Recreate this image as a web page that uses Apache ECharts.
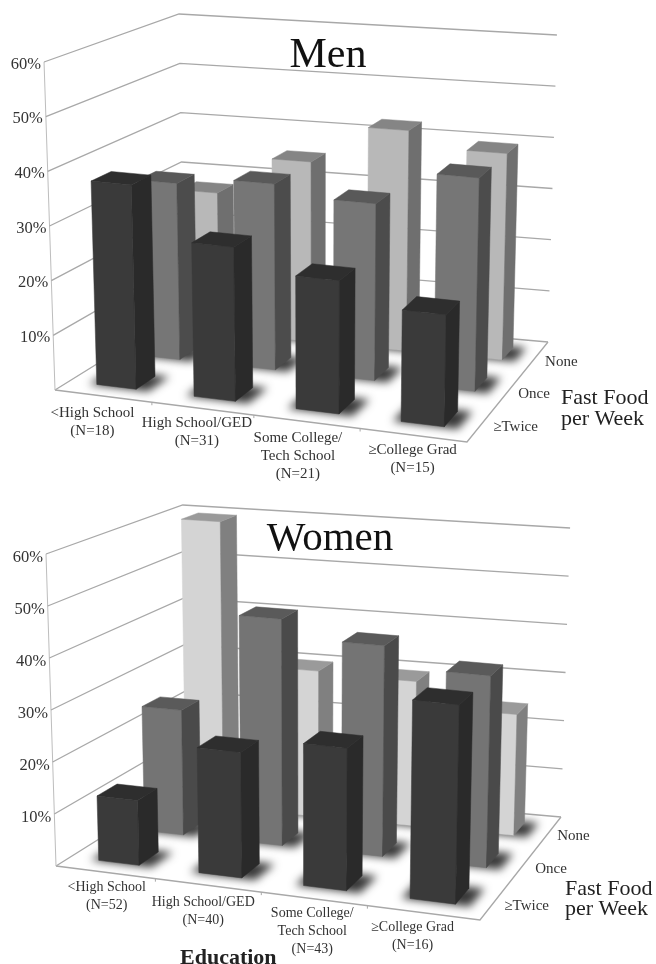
<!DOCTYPE html>
<html>
<head>
<meta charset="utf-8">
<style>html,body{margin:0;padding:0;background:#fff}#chart{width:656px;height:964px}</style>
<script src="https://cdn.jsdelivr.net/npm/echarts@6/dist/echarts.min.js"></script>
</head>
<body>
<div id="chart"></div>
<script>
// Share of respondents (%) by education and weekly fast-food frequency.
const menCategories = ['<High School\n(N=18)', 'High School/GED\n(N=31)', 'Some College/\nTech School\n(N=21)', '≥College Grad\n(N=15)'];
const womenCategories = ['<High School\n(N=52)', 'High School/GED\n(N=40)', 'Some College/\nTech School\n(N=43)', '≥College Grad\n(N=16)'];
const frequencyLevels = ['≥Twice', 'Once', 'None'];
const tickValues = [0, 10, 20, 30, 40, 50, 60];
const menTwice = [37.5, 28, 24, 20];
const menOnce = [33.5, 35, 33, 39.5];
const menNone = [27.5, 35, 42.5, 39.5];
const womenTwice = [12.5, 24, 27, 37.5];
const womenOnce = [25, 45, 41.5, 37.5];
const womenNone = [59.5, 30, 29.5, 24.5];

// Unit square -> quadrilateral projective map (used for the floor and ceiling planes).
function squareToQuad(p) {
  const [p0, p1, p2, p3] = p;
  const dx1 = p1[0] - p2[0], dx2 = p3[0] - p2[0], dx3 = p0[0] - p1[0] + p2[0] - p3[0];
  const dy1 = p1[1] - p2[1], dy2 = p3[1] - p2[1], dy3 = p0[1] - p1[1] + p2[1] - p3[1];
  const den = dx1 * dy2 - dx2 * dy1;
  const g = (dx3 * dy2 - dx2 * dy3) / den, h = (dx1 * dy3 - dx3 * dy1) / den;
  const a = p1[0] - p0[0] + g * p1[0], b = p3[0] - p0[0] + h * p3[0];
  const d = p1[1] - p0[1] + g * p1[1], e = p3[1] - p0[1] + h * p3[1];
  return (u, w) => {
    const q = g * u + h * w + 1;
    return [(a * u + b * w + p0[0]) / q, (d * u + e * w + p0[1]) / q];
  };
}

// Scene layout for each panel: floor and 60% plane corners (FL, FR, BR, BL),
// the point vertical edges converge on, and the spacing of the education cells.
const panels = [
  {
    name: 'Men', categories: menCategories,
    floor: squareToQuad([[55, 390], [467, 442], [548, 342], [184, 310]]),
    top: squareToQuad([[44, 62], [473.5, 102], [557, 35], [176, 14]]),
    nadir: [318, 8255],
    grid: { left: 55, top: 62, width: 412, height: 328 },
    cellEdges: [0, 0.265, 0.5225, 0.77, 1],
    tickDy: 2.5,
    catFont: 15,
    catOffset: [[-10, 26], [-5, 24], [-8, 34], [0, 24]],
    freqOffset: [[33, 4], [23, 6], [25, 6]],
    rows: [menTwice, menOnce, menNone],
    faces: [
      ['#3a3a3a', '#2a2a2a', '#2e2e2e'],
      ['#767676', '#4c4c4c', '#595959'],
      ['#b8b8b8', '#6f6f6f', '#858585']
    ]
  },
  {
    name: 'Women', categories: womenCategories,
    floor: squareToQuad([[56, 866], [480, 920], [561, 817], [187, 784]]),
    top: squareToQuad([[46, 554], [487, 597], [570, 528], [182, 505]]),
    nadir: [310, 8800],
    grid: { left: 56, top: 554, width: 424, height: 312 },
    cellEdges: [0, 0.265, 0.525, 0.765, 1],
    tickDy: 4,
    catFont: 14,
    catOffset: [[2, 24], [-4, 26], [-1, 33], [-10, 24]],
    freqOffset: [[31, 6], [27, 5], [24, 4]],
    rows: [womenTwice, womenOnce, womenNone],
    faces: [
      ['#3a3a3a', '#2a2a2a', '#2e2e2e'],
      ['#747474', '#4a4a4a', '#5a5a5a'],
      ['#d4d4d4', '#808080', '#9a9a9a']
    ]
  }
];

const BAR_U = 0.41, BAR_W = 0.42;
const GRID_COLOR = '#a8a8a8', TEXT_COLOR = '#333';
const SERIF = '"Liberation Serif", "Times New Roman", serif';
const SHADOW_SHIFT = 2000;

// Turn an (education position, percent) pair into normalised grid coordinates via the axes.
function normalised(params, api, x, val) {
  const sys = params.coordSys;
  const c = api.coord([x, val]);
  return [(c[0] - sys.x) / sys.width, (sys.y + sys.height - c[1]) / sys.height];
}
function spaced(panel, n) {
  const e = panel.cellEdges, t = Math.min(Math.max(n * 4, 0), 3.9999), k = Math.floor(t);
  return e[k] + (e[k + 1] - e[k]) * (t - k);
}
function project(panel, n, depth) {
  const u = spaced(panel, n[0]);
  const b = panel.floor(u, depth), t = panel.top(u, depth);
  const y = b[1] + (t[1] - b[1]) * n[1];
  // Verticals run along the line from the floor point to the nadir.
  const x = b[0] + (panel.nadir[0] - b[0]) * (y - b[1]) / (panel.nadir[1] - b[1]);
  return [x, y];
}

function barRender(panel, row) {
  return function (params, api) {
    const i = api.value(0), val = api.value(1);
    const x0 = i + 0.5 - BAR_U / 2, x1 = i + 0.5 + BAR_U / 2;
    const d0 = (row + 0.5 - BAR_W / 2) / 3, d1 = (row + 0.5 + BAR_W / 2) / 3;
    const P = (x, v, d) => project(panel, normalised(params, api, x, v), d);
    const face = (pts, fill) => ({ type: 'polygon', shape: { points: pts }, style: { fill: fill, stroke: fill, lineWidth: 0.5 } });
    const [front, side, lid] = panel.faces[row];
    const sx0 = i + 0.5 - BAR_U * 0.68, sx1 = i + 0.5 + BAR_U * 0.82;
    const sd0 = d0 - 0.006, sd1 = d1 + 0.012;
    // Soft contact shadow: the polygon sits off-canvas so only its blur lands on the floor.
    const off = p => [p[0] - SHADOW_SHIFT, p[1]];
    return {
      type: 'group',
      children: [
        {
          type: 'polygon',
          shape: { points: [P(sx0, 0, sd0), P(sx1, 0, sd0), P(sx1, 0, sd1), P(sx0, 0, sd1)].map(off) },
          style: { fill: '#000', shadowBlur: 8, shadowOffsetX: SHADOW_SHIFT, shadowColor: 'rgba(0,0,0,0.78)' }
        },
        face([P(x0, 0, d0), P(x1, 0, d0), P(x1, val, d0), P(x0, val, d0)], front),
        face([P(x1, 0, d0), P(x1, 0, d1), P(x1, val, d1), P(x1, val, d0)], side),
        face([P(x0, val, d0), P(x1, val, d0), P(x1, val, d1), P(x0, val, d1)], lid)
      ]
    };
  };
}

function frameRender(panel) {
  return function (params, api) {
    const val = api.value(0);
    const P = (x, d) => project(panel, normalised(params, api, x, val), d);
    const line = (pts) => ({ type: 'polyline', shape: { points: pts }, style: { stroke: GRID_COLOR, lineWidth: 1.3, fill: null } });
    const children = [line([P(0, 0), P(0, 1), P(4, 1)])];
    if (val === 0) {
      children.push(line([P(0, 0), P(4, 0), P(4, 1)]));
      const top = project(panel, normalised(params, api, 0, 60), 0);
      children.push({ type: 'line', shape: { x1: P(0, 0)[0], y1: P(0, 0)[1], x2: top[0], y2: top[1] }, style: { stroke: '#bdbdbd', lineWidth: 1 } });
      [1, 2, 3].forEach(k => {
        const a = P(k, 0);
        children.push({ type: 'line', shape: { x1: a[0], y1: a[1], x2: a[0], y2: a[1] + 3 }, style: { stroke: GRID_COLOR, lineWidth: 1 } });
      });
    } else {
      const a = P(0, 0);
      children.push({
        type: 'text',
        style: { x: a[0] - 3, y: a[1] + panel.tickDy, text: val + '%', align: 'right', verticalAlign: 'middle', font: '16.5px ' + SERIF, fill: TEXT_COLOR }
      });
    }
    return { type: 'group', children };
  };
}

function categoryRender(panel) {
  return function (params, api) {
    const i = api.value(0);
    const a = project(panel, normalised(params, api, i + 0.5, 0), 0);
    const off = panel.catOffset[i];
    return {
      type: 'text',
      style: {
        x: a[0] + off[0], y: a[1] + off[1], text: panel.categories[i], align: 'center', verticalAlign: 'middle',
        font: panel.catFont + 'px ' + SERIF, lineHeight: 18, fill: TEXT_COLOR
      }
    };
  };
}

function frequencyRender(panel) {
  return function (params, api) {
    const j = api.value(0);
    const a = project(panel, normalised(params, api, 4, 0), (j + 0.5) / 3);
    const off = panel.freqOffset[j];
    return {
      type: 'text',
      style: {
        x: a[0] + off[0], y: a[1] + off[1], text: frequencyLevels[j], align: 'center', verticalAlign: 'middle',
        font: '15px ' + SERIF, fill: TEXT_COLOR
      }
    };
  };
}

const grids = [], xAxes = [], yAxes = [], series = [];
panels.forEach((panel, idx) => {
  grids.push(panel.grid);
  xAxes.push({ gridIndex: idx, type: 'value', min: 0, max: 4, show: false });
  yAxes.push({ gridIndex: idx, type: 'value', min: 0, max: 60, interval: 10, show: false });
  const base = { type: 'custom', xAxisIndex: idx, yAxisIndex: idx, silent: true };
  series.push(Object.assign({}, base, {
    name: panel.name + ' grid', renderItem: frameRender(panel),
    data: tickValues.map(v => [v]), encode: { y: 0 }
  }));
  // Rows are painted from the back of the floor to the front.
  [2, 1, 0].forEach(row => {
    series.push(Object.assign({}, base, {
      name: panel.name + ' ' + frequencyLevels[row], renderItem: barRender(panel, row),
      data: panel.rows[row].map((v, i) => [i, v]), encode: { x: 0, y: 1 }
    }));
  });
  series.push(Object.assign({}, base, {
    name: panel.name + ' education', renderItem: categoryRender(panel),
    data: panel.categories.map((_, i) => [i]), encode: { x: 0 }
  }));
  series.push(Object.assign({}, base, {
    name: panel.name + ' frequency', renderItem: frequencyRender(panel),
    data: frequencyLevels.map((_, j) => [j]), encode: { x: 0 }
  }));
});

const chart = echarts.init(document.getElementById('chart'), null, { renderer: 'canvas' });
chart.setOption({
  animation: false,
  backgroundColor: '#fff',
  title: [
    { text: 'Men', left: 323, top: 30, textAlign: 'center', textStyle: { fontFamily: SERIF, fontSize: 42, fontWeight: 'normal', color: '#111' } },
    { text: 'Women', left: 325, top: 514, textAlign: 'center', textStyle: { fontFamily: SERIF, fontSize: 41, fontWeight: 'normal', color: '#111' } }
  ],
  grid: grids, xAxis: xAxes, yAxis: yAxes, series: series,
  graphic: [
    { type: 'text', left: 561, top: 387, style: { text: 'Fast Food\nper Week', font: '22px ' + SERIF, lineHeight: 21, fill: '#222' } },
    { type: 'text', left: 565, top: 878, style: { text: 'Fast Food\nper Week', font: '22px ' + SERIF, lineHeight: 20, fill: '#222' } },
    { type: 'text', left: 180, top: 947, style: { text: 'Education', font: 'bold 22px ' + SERIF, fill: '#222' } }
  ]
});
</script>
</body>
</html>
